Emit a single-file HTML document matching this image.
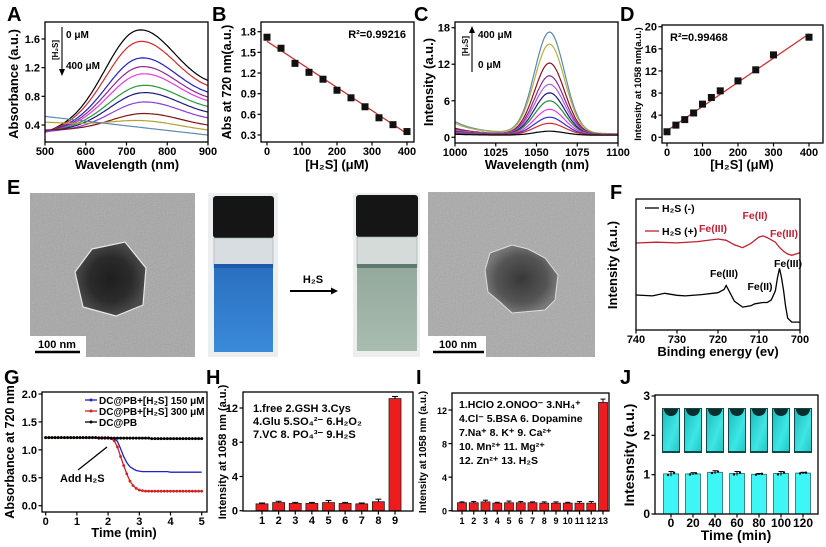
<!DOCTYPE html>
<html><head><meta charset="utf-8"><style>
html,body{margin:0;padding:0;background:#fff;}
svg{display:block;font-family:"Liberation Sans",Arial,sans-serif;font-weight:bold;}
</style></head><body>
<svg id="fig" width="826" height="547" viewBox="0 0 826 547" xmlns="http://www.w3.org/2000/svg">
<defs>
<filter id="grain" x="0" y="0" width="100%" height="100%"><feTurbulence type="fractalNoise" baseFrequency="0.9" numOctaves="2" seed="3"/><feColorMatrix type="saturate" values="0"/></filter>
<radialGradient id="pgrad1"><stop offset="0" stop-color="#1e1e1e"/><stop offset="0.6" stop-color="#2b2b2b"/><stop offset="1" stop-color="#4a4a4a"/></radialGradient>
<radialGradient id="pgrad2"><stop offset="0" stop-color="#383838"/><stop offset="0.7" stop-color="#555"/><stop offset="1" stop-color="#777"/></radialGradient>
<linearGradient id="cyan" x1="0" y1="0" x2="1" y2="1"><stop offset="0" stop-color="#1bbcbc"/><stop offset="0.6" stop-color="#3fe6e6"/><stop offset="1" stop-color="#20c8c8"/></linearGradient>
<linearGradient id="blueLiq" x1="0" y1="0" x2="0" y2="1"><stop offset="0" stop-color="#2a6fc0"/><stop offset="1" stop-color="#3a8ad8"/></linearGradient>
<linearGradient id="greenLiq" x1="0" y1="0" x2="0" y2="1"><stop offset="0" stop-color="#93a99c"/><stop offset="1" stop-color="#a9bcb0"/></linearGradient>
</defs>

<g>
<rect x="30" y="193" width="165" height="164" fill="#a6a6a6"/>
<rect x="30" y="193" width="165" height="164" filter="url(#grain)" opacity="0.35"/>
<polygon points="92,249 125,242 146,268 143,305 116,316 83,307 75,272" fill="url(#pgrad1)" stroke="#e8e8e8" stroke-width="1.2"/>
<rect x="30" y="336" width="56" height="21" fill="#fff"/>
<line x1="35" y1="352" x2="80" y2="352" stroke="#000" stroke-width="2.5"/>
<text x="57" y="348" font-size="11" text-anchor="middle">100 nm</text>
</g>
<g>
<rect x="208" y="193" width="70" height="164" fill="#eceef0"/>
<rect x="213" y="196" width="61" height="42" rx="3" fill="#151515"/>
<rect x="214" y="238" width="59" height="30" fill="#d8dde2" stroke="#9aa" stroke-width="0.6"/>
<rect x="214" y="266" width="59" height="86" fill="url(#blueLiq)"/>
<rect x="214" y="264" width="59" height="4" fill="#1d5aa8"/>
</g>
<g>
<line x1="290" y1="291" x2="333" y2="291" stroke="#000" stroke-width="2"/>
<polygon points="338,291 331,287.5 331,294.5" fill="#000"/>
<text x="313" y="283" font-size="11" text-anchor="middle">H₂S</text>
</g>
<g>
<rect x="353" y="193" width="67" height="164" fill="#eceef0"/>
<rect x="356" y="195" width="62" height="42" rx="3" fill="#151515"/>
<rect x="357" y="237" width="60" height="30" fill="#d5dbd8" stroke="#9aa" stroke-width="0.6"/>
<rect x="357" y="266" width="60" height="85" fill="url(#greenLiq)"/>
<rect x="357" y="264" width="60" height="4" fill="#5d7a70"/>
</g>
<g>
<rect x="428" y="192" width="167" height="165" fill="#a9a9a9"/>
<rect x="428" y="192" width="167" height="165" filter="url(#grain)" opacity="0.35"/>
<polygon points="490,253 512,245 528,249 545,258 558,275 555,300 545,310 512,313 500,302 488,292 485,270" fill="url(#pgrad2)" stroke="#ddd" stroke-width="1"/>
<rect x="428" y="336" width="58" height="21" fill="#fff"/>
<line x1="433" y1="352" x2="484" y2="352" stroke="#000" stroke-width="2.5"/>
<text x="458" y="348" font-size="11" text-anchor="middle">100 nm</text>
</g>
</svg>
<script>
// ---------- DATA ----------
const peakA = [1.72,1.56,1.33,1.21,1.11,0.95,0.85,0.72,0.56,0.46,0.36];
const startA = [0.30,0.30,0.30,0.30,0.30,0.31,0.31,0.31,0.33,0.44,0.52];
const endA = [1.02,0.95,0.86,0.79,0.74,0.66,0.58,0.50,0.40,0.33,0.26];
const colorsA = ['#000000','#d42a2a','#2020c8','#8e2a8e','#e83ae8','#2a9a3a','#1a1a80','#8a40d8','#7a1818','#b8a030','#5a8ab0'];
const concB = [0,40,80,120,160,200,240,280,320,360,400];
const absB = [1.72,1.56,1.34,1.21,1.11,0.95,0.84,0.71,0.55,0.45,0.35];
const fitB = [1.66,0.32];
const peakC = [17.3,15.3,12.2,10.1,8.7,7.3,6.0,4.6,3.3,2.3,1.0];
const startC = [2.6,2.3,1.5,1.3,1.2,1.0,0.9,0.8,0.7,0.6,0.5];
const endC = [0.6,0.6,0.5,0.5,0.5,0.45,0.45,0.4,0.4,0.4,0.35];
const colorsC = ['#5a8ab0','#b8b040','#8a1020','#8a2a9a','#b060d0','#1a1a80','#2a8a3a','#e83ae8','#3030d0','#d42a2a','#000000'];
const concD = [0,25,50,75,100,125,150,200,250,300,400];
const intD = [1.0,2.2,3.2,4.4,6.0,7.2,8.4,10.2,12.2,14.9,18.1];
const fitD = [1.2,18.7];
const eF_black = [740,736,733,730,728,724,720,718.5,718,717,716,714,712,711,709,708,707,706,705.5,705,704.5,704,703.5,703,702,700];
const iF_black = [26.7,26,28,26.5,26,27,28.5,31,34,28,22,17.5,18.5,20,21,21,23,30,40,47,40,30,18,9,6,6];
const eF_red = [740,735,730,725,720,718,716,714,712,710,709,708,706,705,704,703,702,700];
const iF_red = [66.4,67,66.5,67.5,69.5,68.5,65,62.8,66,71,71.8,70.5,67,63,60,58,57,59];
const timeG = [0,0.1,0.2,0.3,0.4,0.5,0.6,0.7,0.8,0.9,1.0,1.1,1.2,1.3,1.4,1.5,1.6,1.7,1.8,1.9,2.0,2.1,2.2,2.3,2.4,2.5,2.6,2.7,2.8,2.9,3.0,3.1,3.2,3.3,3.4,3.5,3.6,3.7,3.8,3.9,4.0,4.1,4.2,4.3,4.4,4.5,4.6,4.7,4.8,4.9,5.0];
const blueG = [1.22,1.22,1.22,1.22,1.22,1.22,1.22,1.22,1.22,1.22,1.22,1.22,1.22,1.22,1.22,1.22,1.22,1.22,1.22,1.22,1.22,1.22,1.21,1.15,1.02,0.88,0.77,0.70,0.66,0.63,0.62,0.61,0.61,0.61,0.61,0.61,0.61,0.61,0.61,0.61,0.60,0.60,0.60,0.60,0.60,0.60,0.60,0.60,0.60,0.60,0.60];
const redG = [1.22,1.22,1.22,1.22,1.22,1.22,1.22,1.22,1.22,1.22,1.22,1.22,1.22,1.22,1.22,1.22,1.22,1.22,1.22,1.22,1.22,1.20,1.16,1.05,0.88,0.72,0.57,0.44,0.36,0.31,0.28,0.27,0.26,0.26,0.26,0.26,0.26,0.26,0.26,0.26,0.26,0.26,0.26,0.26,0.26,0.26,0.26,0.26,0.26,0.26,0.26];
const blackG = [1.22,1.22,1.22,1.22,1.22,1.22,1.22,1.22,1.22,1.22,1.22,1.22,1.22,1.22,1.22,1.22,1.22,1.21,1.21,1.21,1.21,1.21,1.21,1.21,1.21,1.21,1.21,1.21,1.21,1.21,1.21,1.21,1.21,1.21,1.20,1.20,1.20,1.20,1.20,1.20,1.20,1.20,1.20,1.20,1.20,1.20,1.20,1.20,1.20,1.20,1.20];
const catH = ['1','2','3','4','5','6','7','8','9'];
const valH = [0.8,0.95,0.85,0.85,0.95,0.85,0.8,1.05,13.1];
const errH = [0.1,0.15,0.12,0.12,0.25,0.12,0.1,0.3,0.25];
const catI = ['1','2','3','4','5','6','7','8','9','10','11','12','13'];
const valI = [0.95,0.95,1.05,0.9,0.95,0.95,0.95,0.9,0.9,0.9,0.9,0.9,12.9];
const errI = [0.1,0.15,0.2,0.1,0.2,0.15,0.1,0.15,0.15,0.1,0.2,0.2,0.4];
const catJ = ['0','20','40','60','80','100','120'];
const valJ = [1.02,1.02,1.06,1.03,1.01,1.03,1.04];
const errJ = [0.06,0.03,0.04,0.05,0.02,0.05,0.02];

// ---------- HELPERS ----------
const NS = 'http://www.w3.org/2000/svg';
const svg = document.getElementById('fig');
function mk(tag, attrs, name, parent){
  const el = document.createElementNS(NS, tag);
  for (const k in attrs) el.setAttribute(k, attrs[k]);
  
  
  (parent || svg).appendChild(el);
  return el;
}
function txt(x, y, s, name, size, anchor, fill, rot){
  const a = {x:x, y:y, 'font-size':size, 'text-anchor':anchor||'start', fill:fill||'#000'};
  if (rot) a.transform = 'rotate(-90 '+x+' '+y+')';
  const t = mk('text', a, name);
  t.textContent = s;
  return t;
}
function lin(d0,d1,p0,p1){ return v => p0 + (v-d0)*(p1-p0)/(d1-d0); }
function axes(p){
  const [x0,y0,x1,y1] = p.box;
  if (p.xt) p.xt.forEach((v,i)=>{
    const x = p.xs(v);
    mk('line',{x1:x,y1:y1,x2:x,y2:y1+3.5,stroke:'#000','stroke-width':1.2}, p.name+'-x-tick');
    txt(x, y1+13, p.xl ? p.xl[i] : String(v), p.name+'-x-tick-label', p.tfs||11, 'middle');
  });
  if (p.yt) p.yt.forEach((v,i)=>{
    const y = p.ys(v);
    mk('line',{x1:x0-3.5,y1:y,x2:x0,y2:y,stroke:'#000','stroke-width':1.2}, p.name+'-y-tick');
    txt(x0-5, y+4, p.yl ? p.yl[i] : String(v), p.name+'-y-tick-label', p.tfs||11, 'end');
  });
  mk('rect',{x:x0,y:y0,width:x1-x0,height:y1-y0,fill:'none',stroke:'#000','stroke-width':1.3}, p.name+'-plot-frame');
}
function path(pts, color, w, name){
  const d = pts.map((p,i)=>(i?'L':'M')+p[0].toFixed(1)+','+p[1].toFixed(1)).join('');
  return mk('path',{d:d,fill:'none',stroke:color,'stroke-width':w}, name);
}
function letter(x,y,s){ txt(x,y,s,'panel-label-'+s.toLowerCase(),20,'start'); }

// ---------- PANEL A ----------
(function(){
  const xs = lin(500,900,45,208), ys = lin(0.4,1.6,125,39);
  letter(7,21,'A');
  peakA.forEach((P,i)=>{
    const pk = 725 + i*2, s = startA[i], e = endA[i], t = (pk-500)/400;
    const g = x => Math.exp(-Math.pow((x-pk)/(x<pk?110:130),2));
    const A = (P - (s + (e-s)*t)) / (1 - g(500)*(1-t) - g(900)*t);
    const a = s - A*g(500), b = e - A*g(900);
    const pts = [];
    for (let x=500; x<=900; x+=5) pts.push([xs(x), ys(a + (b-a)*(x-500)/400 + A*g(x))]);
    path(pts, colorsA[i], 1.2, 'uv-spectrum-'+i);
  });
  axes({name:'a', box:[45,22,208,142], xs:xs, ys:ys, xt:[500,600,700,800,900], yt:[0.4,0.8,1.2,1.6], yl:['0.4','0.8','1.2','1.6']});
  txt(18,84,'Absorbance (a.u.)','a-y-axis-title',13,'middle','#000',true);
  txt(127,169,'Wavelength (nm)','a-x-axis-title',13,'middle');
  mk('line',{x1:62,y1:27,x2:62,y2:71,stroke:'#000','stroke-width':1.1},'a-concentration-arrow');
  mk('polygon',{points:'62,76 59,69 65,69',fill:'#000'},'a-arrow-head');
  txt(58,50,'[H₂S]','a-arrow-label',8,'middle','#000',true);
  txt(66,38,'0 μM','a-start-label',10,'start');
  txt(66,69,'400 μM','a-end-label',10,'start');
})();

// ---------- PANEL B ----------
(function(){
  const xs = lin(0,400,267,407), ys = lin(0.3,1.8,135,31.7);
  letter(212,21,'B');
  axes({name:'b', box:[261,22,414,142], xs:xs, ys:ys, xt:[0,100,200,300,400], yt:[0.3,0.6,0.9,1.2,1.5,1.8], yl:['0.3','0.6','0.9','1.2','1.5','1.8']});
  mk('line',{x1:xs(0),y1:ys(fitB[0]),x2:xs(400),y2:ys(fitB[1]),stroke:'#d03030','stroke-width':1.3},'b-fit-line');
  concB.forEach((c,i)=>{ mk('rect',{x:xs(c)-3.5,y:ys(absB[i])-3.5,width:7,height:7,fill:'#111'},'b-data-point'); });
  txt(231,82,'Abs at 720 nm(a.u.)','b-y-axis-title',12.5,'middle','#000',true);
  txt(337,169,'[H₂S] (μM)','b-x-axis-title',13,'middle');
  txt(406,38,'R²=0.99216','b-r-squared',11,'end');
})();

// ---------- PANEL C ----------
(function(){
  const xs = lin(1000,1100,455,618), ys = lin(0,18,137.3,27.7);
  letter(414,21,'C');
  peakC.forEach((P,i)=>{
    const s = startC[i], e = endC[i];
    const base = x => e + (s-e)*Math.exp(-(x-1000)/14);
    const A = P - base(1058);
    const pts = [];
    for (let x=1000; x<=1100; x+=1) pts.push([xs(x), ys(base(x) + A*Math.exp(-Math.pow((x-1058)/13,2)))]);
    path(pts, colorsC[i], 1.2, 'nir-spectrum-'+i);
  });
  axes({name:'c', box:[455,22,618,143], xs:xs, ys:ys, xt:[1000,1025,1050,1075,1100], yt:[0,6,12,18]});
  txt(433,82,'Intensity (a.u.)','c-y-axis-title',13,'middle','#000',true);
  txt(537,169,'Wavelength (nm)','c-x-axis-title',13,'middle');
  mk('line',{x1:472,y1:72,x2:472,y2:31,stroke:'#000','stroke-width':1.1},'c-concentration-arrow');
  mk('polygon',{points:'472,26 469,33 475,33',fill:'#000'},'c-arrow-head');
  txt(468,46,'[H₂S]','c-arrow-label',8,'middle','#000',true);
  txt(478,38,'400 μM','c-end-label',10,'start');
  txt(478,68,'0 μM','c-start-label',10,'start');
})();

// ---------- PANEL D ----------
(function(){
  const xs = lin(0,400,667,809), ys = lin(0,20,137.3,26.7);
  letter(620,21,'D');
  axes({name:'d', box:[662,25,823,143], xs:xs, ys:ys, xt:[0,100,200,300,400], yt:[0,4,8,12,16,20]});
  mk('line',{x1:xs(0),y1:ys(fitD[0]),x2:xs(400),y2:ys(fitD[1]),stroke:'#d03030','stroke-width':1.3},'d-fit-line');
  concD.forEach((c,i)=>{ mk('rect',{x:xs(c)-3.5,y:ys(intD[i])-3.5,width:7,height:7,fill:'#111'},'d-data-point'); });
  txt(641,84,'Intensity at 1058 nm(a.u.)','d-y-axis-title',9.5,'middle','#000',true);
  txt(742,169,'[H₂S] (μM)','d-x-axis-title',13,'middle');
  txt(670,41,'R²=0.99468','d-r-squared',11,'start');
})();

letter(7,194,'E');

// ---------- PANEL F ----------
(function(){
  const xs = lin(740,700,636,800), ys = lin(0,100,330,199);
  letter(610,199,'F');
  path(eF_red.map((e,i)=>[xs(e),ys(iF_red[i])]), '#c02030', 1.3, 'xps-h2s-plus');
  path(eF_black.map((e,i)=>[xs(e),ys(iF_black[i])]), '#000', 1.3, 'xps-h2s-minus');
  axes({name:'f', box:[636,199,800,330], xs:xs, ys:ys, xt:[740,730,720,710,700]});
  txt(617,265,'Intensity (a.u.)','f-y-axis-title',13,'middle','#000',true);
  txt(718,356,'Binding energy (ev)','f-x-axis-title',13,'middle');
  mk('line',{x1:645,y1:208,x2:659,y2:208,stroke:'#000','stroke-width':1.3},'f-legend-swatch-minus');
  txt(662,212,'H₂S (-)','f-legend-minus',10.5,'start');
  mk('line',{x1:645,y1:231,x2:659,y2:231,stroke:'#c02030','stroke-width':1.3},'f-legend-swatch-plus');
  txt(662,235,'H₂S (+)','f-legend-plus',10.5,'start');
  txt(713,232,'Fe(III)','f-peak-label',10.5,'middle','#c02030');
  txt(755,219,'Fe(II)','f-peak-label',10.5,'middle','#c02030');
  txt(784,237,'Fe(III)','f-peak-label',10.5,'middle','#c02030');
  txt(724,277,'Fe(III)','f-peak-label',10.5,'middle');
  txt(760,290,'Fe(II)','f-peak-label',10.5,'middle');
  txt(788,267,'Fe(III)','f-peak-label',10.5,'middle');
})();

// ---------- PANEL G ----------
(function(){
  const xs = lin(0,5,45.7,201.7), ys = lin(0,2,505.7,394);
  letter(4,384,'G');
  axes({name:'g', box:[42,392,207,512], xs:xs, ys:ys, xt:[0,1,2,3,4,5], yt:[0,0.5,1,1.5,2], yl:['0.0','0.5','1.0','1.5','2.0']});
  path(timeG.map((t,i)=>[xs(t),ys(blueG[i])]), '#2020c0', 1.3, 'g-series-150');
  path(timeG.map((t,i)=>[xs(t),ys(redG[i])]), '#d02020', 1.3, 'g-series-300');
  timeG.forEach((t,i)=>{ mk('circle',{cx:xs(t),cy:ys(redG[i]),r:1.4,fill:'#d02020'},'g-point-300'); });
  path(timeG.map((t,i)=>[xs(t),ys(blackG[i])]), '#000', 1.3, 'g-series-control');
  timeG.forEach((t,i)=>{ mk('circle',{cx:xs(t),cy:ys(blackG[i]),r:1.5,fill:'#000'},'g-point-control'); });
  txt(14,452,'Absorbance at 720 nm','g-y-axis-title',12.5,'middle','#000',true);
  txt(124,537,'Time (min)','g-x-axis-title',13,'middle');
  const L = [['#2020c0','DC@PB+[H₂S] 150 μM',400],['#d02020','DC@PB+[H₂S] 300 μM',411],['#000','DC@PB',422]];
  L.forEach(l=>{
    mk('line',{x1:85,y1:l[2],x2:97,y2:l[2],stroke:l[0],'stroke-width':1.3},'g-legend-swatch');
    mk('circle',{cx:91,cy:l[2],r:1.5,fill:l[0]},'g-legend-marker');
    txt(99,l[2]+4,l[1],'g-legend-entry',10,'start');
  });
  mk('line',{x1:78,y1:470,x2:107,y2:447,stroke:'#000','stroke-width':1.3},'g-add-pointer');
  txt(60,482,'Add H₂S','g-add-annotation',11,'start');
})();

// ---------- PANEL H ----------
(function(){
  const xs = lin(1,9,262,395), ys = lin(0,12,510.7,408);
  letter(206,384,'H');
  catH.forEach((c,i)=>{
    const x = xs(i+1), y = ys(valH[i]);
    mk('rect',{x:x-6,y:y,width:12,height:ys(0)-y,fill:'#ee1c1c',stroke:'#222','stroke-width':0.8},'h-bar-'+c);
    mk('line',{x1:x,y1:ys(valH[i]+errH[i]),x2:x,y2:y,stroke:'#000','stroke-width':1},'h-error-bar');
    mk('line',{x1:x-3,y1:ys(valH[i]+errH[i]),x2:x+3,y2:ys(valH[i]+errH[i]),stroke:'#000','stroke-width':1},'h-error-cap');
  });
  axes({name:'h', box:[243,392,413,511], xs:xs, ys:ys, xt:[1,2,3,4,5,6,7,8,9], yt:[0,4,8,12]});
  txt(226,452,'Intensity at 1058 nm (a.u.)','h-y-axis-title',11,'middle','#000',true);
  txt(253,412,'1.free 2.GSH 3.Cys','h-legend-line',11,'start');
  txt(253,425,'4.Glu 5.SO₄²⁻ 6.H₂O₂','h-legend-line',11,'start');
  txt(253,438,'7.VC 8. PO₄³⁻ 9.H₂S','h-legend-line',11,'start');
})();

// ---------- PANEL I ----------
(function(){
  const xs = lin(1,13,462,603), ys = lin(0,12,510.7,410);
  letter(416,384,'I');
  catI.forEach((c,i)=>{
    const x = xs(i+1), y = ys(valI[i]);
    mk('rect',{x:x-4.5,y:y,width:9,height:ys(0)-y,fill:'#ee1c1c',stroke:'#222','stroke-width':0.8},'i-bar-'+c);
    mk('line',{x1:x,y1:ys(valI[i]+errI[i]),x2:x,y2:y,stroke:'#000','stroke-width':1},'i-error-bar');
    mk('line',{x1:x-2.5,y1:ys(valI[i]+errI[i]),x2:x+2.5,y2:ys(valI[i]+errI[i]),stroke:'#000','stroke-width':1},'i-error-cap');
  });
  axes({name:'i', box:[452,393,609,511], xs:xs, ys:ys, xt:[1,2,3,4,5,6,7,8,9,10,11,12,13], yt:[0,4,8,12], tfs:9});
  txt(426,452,'Intensity at 1058 nm (a.u.)','i-y-axis-title',10,'middle','#000',true);
  ['1.HClO 2.ONOO⁻ 3.NH₄⁺','4.Cl⁻ 5.BSA 6. Dopamine','7.Na⁺ 8. K⁺ 9. Ca²⁺','10. Mn²⁺ 11. Mg²⁺','12. Zn²⁺ 13. H₂S'].forEach((s,k)=>{
    txt(459,408+k*14,s,'i-legend-line',10.5,'start');
  });
})();

// ---------- PANEL J ----------
(function(){
  const xs = lin(0,6,671,803), ys = lin(0,3,514,396);
  letter(620,384,'J');
  catJ.forEach((c,i)=>{
    const x = xs(i), y = ys(valJ[i]);
    const g = mk('g',{},'j-vial-photo-'+c);
    mk('rect',{x:x-9,y:408,width:18,height:45,fill:'#0e4a4a'},'j-vial-frame',g);
    mk('rect',{x:x-8,y:409,width:16,height:42,fill:'url(#cyan)'},'j-vial-glow',g);
    mk('path',{d:'M'+(x-7)+',409 A7 7 0 0 0 '+(x+7)+',409 Z',fill:'#0a2e2e'},'j-vial-meniscus',g);
    mk('rect',{x:x-7.5,y:y,width:15,height:ys(0)-y,fill:'#3ff6f6',stroke:'#2a6a6a','stroke-width':0.8},'j-bar-'+c);
    mk('line',{x1:x,y1:ys(valJ[i]+errJ[i]),x2:x,y2:ys(valJ[i]-errJ[i]),stroke:'#000','stroke-width':1},'j-error-bar');
    mk('line',{x1:x-2.5,y1:ys(valJ[i]+errJ[i]),x2:x+2.5,y2:ys(valJ[i]+errJ[i]),stroke:'#000','stroke-width':1},'j-error-cap');
    mk('circle',{cx:x-3,cy:ys(valJ[i]-errJ[i]*0.5),r:1.2,fill:'#000'},'j-replicate-dot');
    mk('circle',{cx:x+3,cy:ys(valJ[i]+errJ[i]*0.5),r:1.2,fill:'#000'},'j-replicate-dot');
  });
  axes({name:'j', box:[655,395,818,514], xs:xs, ys:ys, xt:[0,1,2,3,4,5,6], xl:catJ, yt:[0,1,2,3], tfs:12});
  txt(634,455,'Intesnsity (a.u.)','j-y-axis-title',14,'middle','#000',true);
  txt(736,540,'Time (min)','j-x-axis-title',14,'middle');
})();
</script>
</body></html>
